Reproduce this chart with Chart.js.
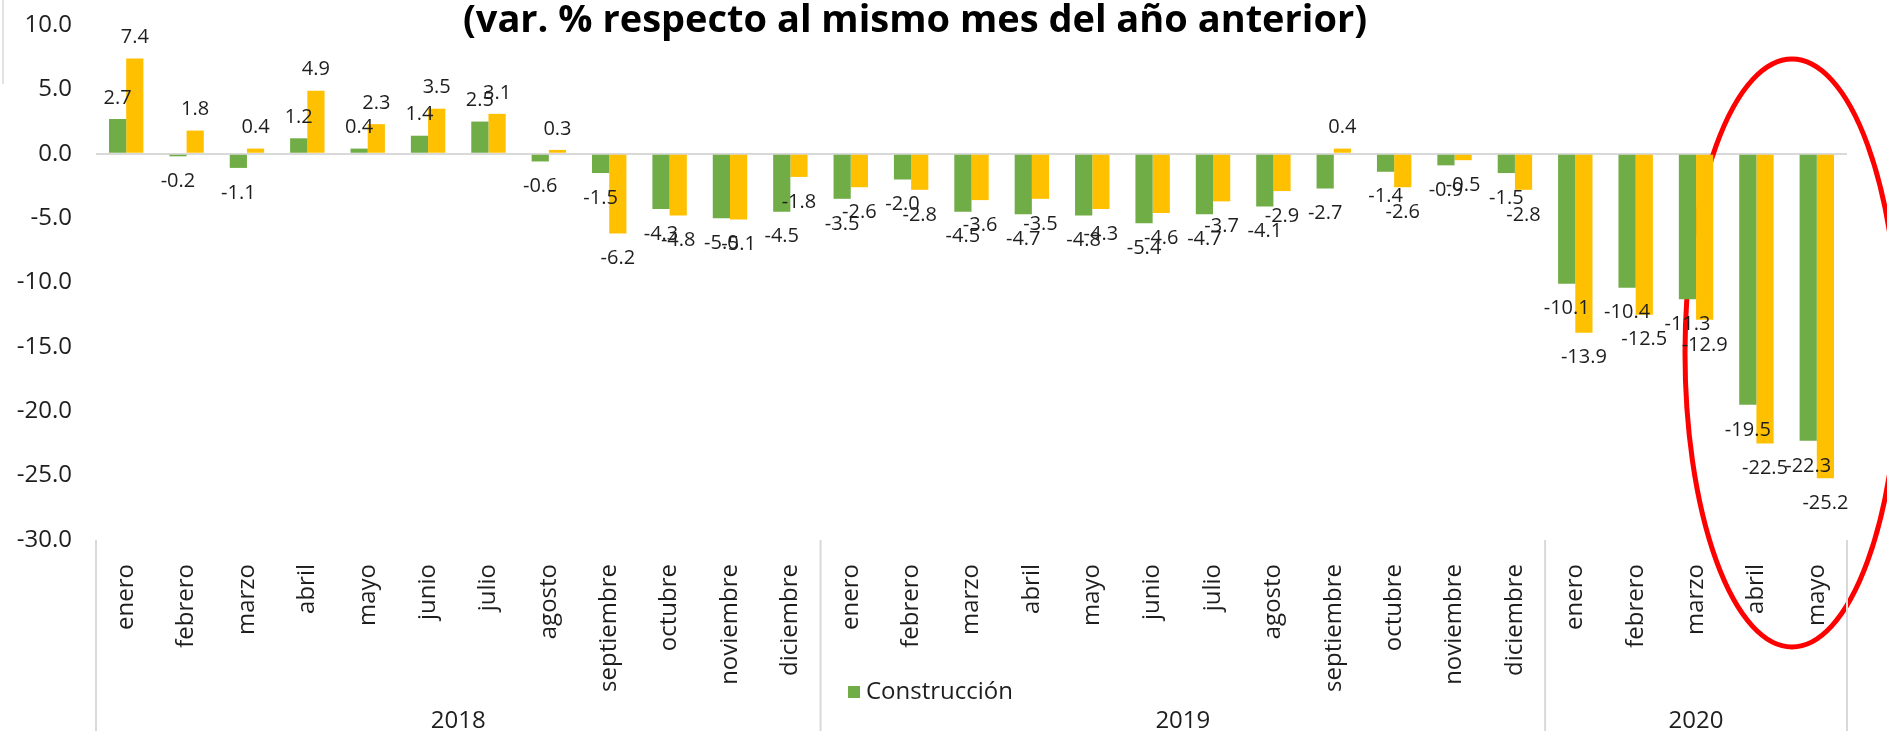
<!DOCTYPE html>
<html>
<head>
  <title>Construcción - variación anual</title>
  <script src="https://cdn.jsdelivr.net/npm/chart.js"></script>
  <style>
    body { margin: 0; background: #fff; }
    #wrap { width: 1887px; height: 731px; }
  </style>
</head>
<body>
  <div id="wrap"><canvas id="chart"></canvas></div>

  <script>
    // meses: ene 2018 - may 2020
    let months = [
      "enero", "febrero", "marzo", "abril", "mayo", "junio", "julio", "agosto", "septiembre", "octubre", "noviembre", "diciembre",
      "enero", "febrero", "marzo", "abril", "mayo", "junio", "julio", "agosto", "septiembre", "octubre", "noviembre", "diciembre",
      "enero", "febrero", "marzo", "abril", "mayo"
    ];
    let years = ["2018", "2019", "2020"];
    let monthsPerYear = [12, 12, 5];

    // var. % respecto al mismo mes del año anterior
    let construccion = [
      2.7, -0.2, -1.1, 1.2, 0.4, 1.4, 2.5, -0.6, -1.5, -4.3, -5.0, -4.5,
      -3.5, -2.0, -4.5, -4.7, -4.8, -5.4, -4.7, -4.1, -2.7, -1.4, -0.9, -1.5,
      -10.1, -10.4, -11.3, -19.5, -22.3
    ];
    let edificacion = [
      7.4, 1.8, 0.4, 4.9, 2.3, 3.5, 3.1, 0.3, -6.2, -4.8, -5.1, -1.8,
      -2.6, -2.8, -3.6, -3.5, -4.3, -4.6, -3.7, -2.9, 0.4, -2.6, -0.5, -2.8,
      -13.9, -12.5, -12.9, -22.5, -25.2
    ];

    let yMin = -30;
    let yMax = 10;
    let yStep = 5;

    let titleText = "(var. % respecto al mismo mes del año anterior)";

    const FONT = "'Open Sans', 'DejaVu Sans', sans-serif";
    const TEXT = "#1e1e1e";
    const LINE = "#d9d9d9";

    // dibuja titulo, etiquetas, años, leyenda y la elipse roja
    const extras = {
      id: "extras",
      beforeDraw(chart) {
        let c = chart.ctx;
        c.save();
        c.fillStyle = "#fff";
        c.fillRect(0, 0, chart.width, chart.height);
        c.restore();
      },
      beforeDatasetsDraw(chart) {
        let c = chart.ctx;
        c.save();
        c.strokeStyle = "#ff0000";
        c.lineWidth = 5;
        c.beginPath();
        c.ellipse(1792, 353, 107, 294, 0, 0, Math.PI * 2);
        c.stroke();
        c.restore();
      },
      afterDatasetsDraw(chart) {
        let c = chart.ctx;
        c.save();
        c.font = "20px " + FONT;
        c.fillStyle = TEXT;
        c.textAlign = "center";
        c.textBaseline = "middle";
        chart.data.datasets.forEach((ds, i) => {
          let meta = chart.getDatasetMeta(i);
          meta.data.forEach((bar, j) => {
            let v = ds.data[j];
            let y = v >= 0 ? bar.y - 21 : bar.y + 25;
            c.fillText(v.toFixed(1), bar.x, y);
          });
        });
        c.restore();
      },
      afterDraw(chart) {
        let c = chart.ctx;
        let x = chart.scales.x;
        let area = chart.chartArea;
        let step = x.getPixelForValue(1) - x.getPixelForValue(0);

        c.save();
        // separadores y años
        c.strokeStyle = LINE;
        c.lineWidth = 2;
        c.fillStyle = TEXT;
        c.font = "24px " + FONT;
        c.textAlign = "center";
        c.textBaseline = "middle";
        let start = 0;
        for (let k = 0; k < years.length; k++) {
          let left = x.getPixelForValue(start) - step / 2;
          let right = x.getPixelForValue(start + monthsPerYear[k] - 1) + step / 2;
          c.beginPath();
          c.moveTo(left, area.bottom);
          c.lineTo(left, chart.height);
          c.stroke();
          if (k === years.length - 1) {
            c.beginPath();
            c.moveTo(right, area.bottom);
            c.lineTo(right, chart.height);
            c.stroke();
          }
          c.fillText(years[k], (left + right) / 2, 721);
          start += monthsPerYear[k];
        }

        // leyenda (solo Construcción)
        let ds = chart.data.datasets[0];
        c.fillStyle = ds.backgroundColor;
        c.fillRect(848, 686, 12, 12);
        c.fillStyle = TEXT;
        c.textAlign = "left";
        c.fillText(ds.label, 866, 692);

        // titulo
        c.font = "bold 38px " + FONT;
        c.textAlign = "center";
        c.textBaseline = "alphabetic";
        c.fillStyle = "#000";
        c.fillText(titleText, 915, 32);

        // linea gris arriba a la izquierda
        c.strokeStyle = LINE;
        c.lineWidth = 1.5;
        c.beginPath();
        c.moveTo(3, 0);
        c.lineTo(3, 84);
        c.stroke();
        c.restore();
      }
    };

    let chart = new Chart(document.getElementById("chart"), {
      type: "bar",
      data: {
        labels: months,
        datasets: [
          {
            label: "Construcción",
            data: construccion,
            backgroundColor: "#70ad47",
            barPercentage: 1,
            categoryPercentage: 0.57
          },
          {
            label: "Edificación",
            data: edificacion,
            backgroundColor: "#ffc000",
            barPercentage: 1,
            categoryPercentage: 0.57
          }
        ]
      },
      options: {
        responsive: true,
        maintainAspectRatio: false,
        animation: false,
        layout: { padding: { top: 25, right: 40, left: 0, bottom: 0 } },
        plugins: {
          legend: { display: false },
          title: { display: false },
          tooltip: { enabled: false }
        },
        scales: {
          x: {
            grid: { display: false },
            border: { display: false },
            ticks: {
              autoSkip: false,
              maxRotation: 90,
              minRotation: 90,
              padding: 16,
              color: TEXT,
              font: { family: FONT, size: 24 }
            },
            afterFit(axis) { axis.height = 191; }
          },
          y: {
            min: yMin,
            max: yMax,
            border: { display: false },
            grid: {
              drawTicks: false,
              lineWidth: 2,
              color: (ctx) => (ctx.tick && ctx.tick.value === 0 ? LINE : "rgba(0,0,0,0)")
            },
            ticks: {
              stepSize: yStep,
              padding: 24,
              color: TEXT,
              font: { family: FONT, size: 24 },
              callback: (v) => Number(v).toFixed(1)
            },
            afterFit(axis) {
              axis.width = 96;
              axis.paddingTop = 0;
              axis.paddingBottom = 0;
            }
          }
        }
      },
      plugins: [extras]
    });
  </script>
</body>
</html>
